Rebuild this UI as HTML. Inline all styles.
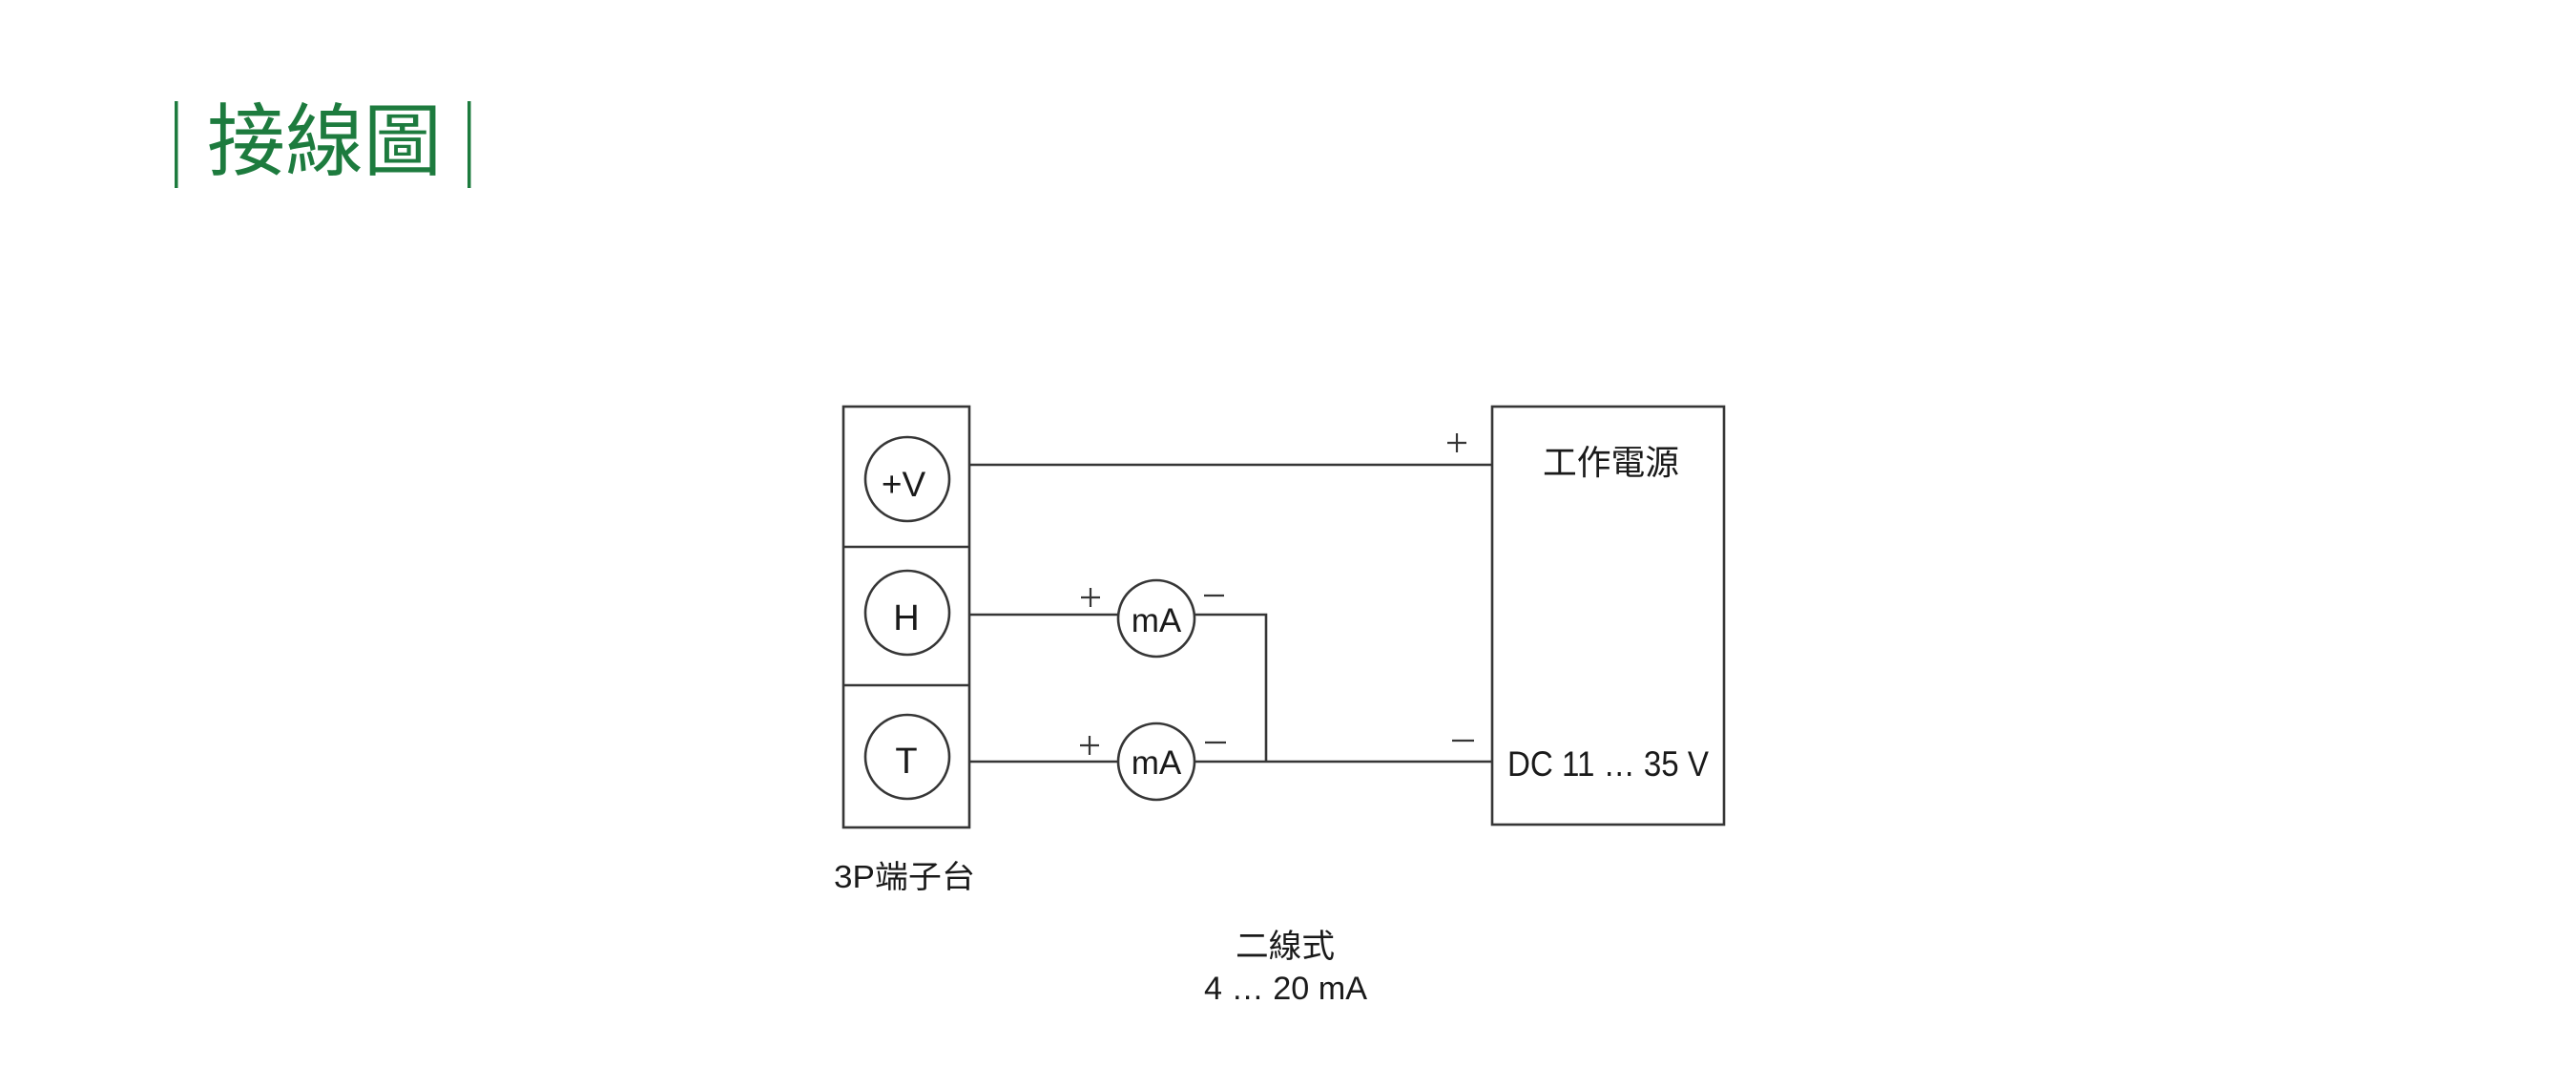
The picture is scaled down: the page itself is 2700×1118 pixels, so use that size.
<!DOCTYPE html>
<html>
<head>
<meta charset="utf-8">
<style>
  html, body { margin:0; padding:0; background:#ffffff; }
  body { width:2700px; height:1118px; overflow:hidden; }
  svg { display:block; }
  .cjk { font-family: "Liberation Sans", "Noto Sans CJK TC", "Noto Sans CJK SC", sans-serif; }
  .lat { font-family: "Liberation Sans", "Noto Sans CJK TC", sans-serif; }
</style>
</head>
<body>
<svg width="2700" height="1118" viewBox="0 0 2700 1118" xmlns="http://www.w3.org/2000/svg">
  <rect x="0" y="0" width="2700" height="1118" fill="#ffffff"/>

  <!-- Title -->
  <rect x="183" y="106" width="3.5" height="91" fill="#1d7b3e"/>
  <rect x="490" y="106" width="3.5" height="91" fill="#1d7b3e"/>
  <text x="217" y="177" class="cjk" font-size="83" fill="#1d7b3e" textLength="246" lengthAdjust="spacingAndGlyphs">接線圖</text>

  <g stroke="#363636" stroke-width="2.6" fill="none">
    <!-- terminal block -->
    <rect x="884" y="426" width="132" height="441"/>
    <line x1="884" y1="573" x2="1016" y2="573"/>
    <line x1="884" y1="718" x2="1016" y2="718"/>
    <!-- terminal circles -->
    <circle cx="951" cy="502" r="44"/>
    <circle cx="951" cy="642" r="44"/>
    <circle cx="951" cy="793" r="44"/>

    <!-- power box -->
    <rect x="1564" y="426" width="243" height="438"/>

    <!-- +V wire -->
    <line x1="1016" y1="487" x2="1564" y2="487"/>

    <!-- H wire -->
    <line x1="1016" y1="644" x2="1172" y2="644"/>
    <polyline points="1252,644 1327,644 1327,798"/>

    <!-- T wire -->
    <line x1="1016" y1="798" x2="1172" y2="798"/>
    <line x1="1252" y1="798" x2="1564" y2="798"/>

    <!-- mA meters -->
    <circle cx="1212" cy="648" r="40"/>
    <circle cx="1212" cy="798" r="40"/>

    <!-- plus / minus signs -->
    <g stroke-width="2.2">
      <line x1="1133" y1="626" x2="1153" y2="626"/>
      <line x1="1143" y1="616" x2="1143" y2="636"/>
      <line x1="1262" y1="624" x2="1283" y2="624"/>

      <line x1="1132" y1="781" x2="1152" y2="781"/>
      <line x1="1142" y1="771" x2="1142" y2="791"/>
      <line x1="1263" y1="778" x2="1285" y2="778"/>

      <line x1="1517" y1="464" x2="1537" y2="464"/>
      <line x1="1527" y1="454" x2="1527" y2="474"/>
      <line x1="1522" y1="776" x2="1545" y2="776"/>
    </g>
  </g>

  <!-- terminal labels -->
  <g class="lat" fill="#1a1a1a" text-anchor="middle">
    <text x="947" y="520" font-size="37">+V</text>
    <text x="950" y="660" font-size="38">H</text>
    <text x="950" y="810" font-size="38">T</text>
    <text x="1212" y="662" font-size="35">mA</text>
    <text x="1212" y="811" font-size="35">mA</text>
  </g>

  <!-- power box labels -->
  <text x="1617" y="497" class="cjk" font-size="36" fill="#1a1a1a" textLength="143" lengthAdjust="spacingAndGlyphs">工作電源</text>
  <text x="1580" y="813" class="lat" font-size="37" fill="#1a1a1a" textLength="211" lengthAdjust="spacingAndGlyphs">DC 11 … 35 V</text>

  <!-- bottom labels -->
  <text x="874" y="930" class="cjk" font-size="33" fill="#1a1a1a" textLength="148" lengthAdjust="spacingAndGlyphs">3P端子台</text>
  <text x="1295" y="1003" class="cjk" font-size="34" fill="#1a1a1a" textLength="104" lengthAdjust="spacingAndGlyphs">二線式</text>
  <text x="1262" y="1047" class="lat" font-size="34" fill="#1a1a1a" textLength="171" lengthAdjust="spacingAndGlyphs">4 … 20 mA</text>
</svg>
</body>
</html>
